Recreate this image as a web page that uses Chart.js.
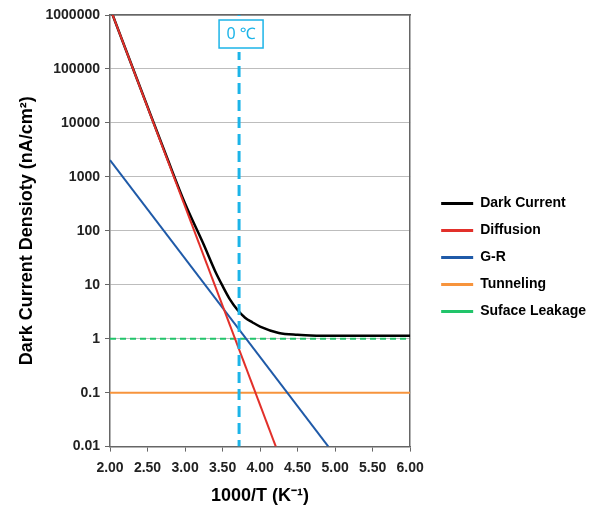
<!DOCTYPE html>
<html>
<head>
<meta charset="utf-8">
<script src="https://cdn.jsdelivr.net/npm/chart.js@4.4.1/dist/chart.umd.min.js"></script>
<style>
  html, body { margin: 0; padding: 0; background: #fff; }
  #wrap { width: 596px; height: 510px; }
</style>
</head>
<body>
<div id="wrap"><canvas id="darkChart" width="596" height="510"></canvas></div>
<script>
// 1000/T (K^-1) and current density (nA/cm2)
const darkX = [2.0, 2.5, 2.75, 3.0, 3.25, 3.4, 3.5, 3.6, 3.7, 3.8, 3.9, 4.0, 4.25, 4.5, 4.75, 5.0, 5.5, 6.0];
const darkCurrent = [1350000, 19900, 2460, 320, 55, 18, 9.5, 5.3, 3.4, 2.45, 2.0, 1.68, 1.28, 1.18, 1.14, 1.13, 1.13, 1.13];
const diffX = [2.0, 4.21];
const diffusion = [1350000, 0.01];
const grX = [2.0, 4.91];
const genRec = [2050, 0.01];
const flatX = [2.0, 6.0];
const tunneling = [0.1, 0.1];
const surfaceLeak = [1, 1];
const zeroC = 3.72;
const zeroLine = [1000000, 0.01];
const yTicks = [0.01, 0.1, 1, 10, 100, 1000, 10000, 100000, 1000000];
const names = ["Dark Current", "Diffusion", "G-R", "Tunneling", "Suface Leakage"];

const pts = (xs, ys) => xs.map((x, i) => ({ x, y: ys[i] }));
const FONT = '"Liberation Sans", Arial, sans-serif';
const CYAN = "#1cb4e8";

Chart.defaults.font.family = FONT;

// small box with the 0 C label on top of the dashed line
const zeroBox = {
  id: "zeroBox",
  afterDatasetsDraw(chart) {
    const { ctx, chartArea } = chart;
    const xp = chart.scales.x.getPixelForValue(zeroC);
    const top = chartArea.top;
    ctx.save();
    ctx.fillStyle = "#fff";
    ctx.fillRect(xp - 21, top + 1, 46, 36);
    ctx.strokeStyle = CYAN;
    ctx.lineWidth = 1.5;
    ctx.strokeRect(xp - 20, top + 5, 44, 28);
    ctx.fillStyle = CYAN;
    ctx.font = '16px "Noto Sans", sans-serif';
    ctx.textAlign = "center";
    ctx.textBaseline = "middle";
    ctx.fillText("0 \u2103", xp + 2, top + 19);
    ctx.restore();
  }
};

const legendLabels = chart =>
  Chart.defaults.plugins.legend.labels.generateLabels(chart).map(l => ({ ...l, lineWidth: 3 }));

new Chart(document.getElementById("darkChart"), {
  type: "line",
  data: {
    datasets: [
      { label: names[0], data: pts(darkX, darkCurrent), borderColor: "#000", backgroundColor: "#000",
        borderWidth: 2.5, cubicInterpolationMode: "monotone", order: 2 },
      { label: names[1], data: pts(diffX, diffusion), borderColor: "#e2302a", backgroundColor: "#e2302a",
        borderWidth: 2, order: 1 },
      { label: names[2], data: pts(grX, genRec), borderColor: "#1f5aa8", backgroundColor: "#1f5aa8",
        borderWidth: 2, order: 1 },
      { label: names[3], data: pts(flatX, tunneling), borderColor: "#f7943c", backgroundColor: "#f7943c",
        borderWidth: 2, order: 1 },
      { label: names[4], data: pts(flatX, surfaceLeak), borderColor: "#21c46a", backgroundColor: "#21c46a",
        borderWidth: 2, borderDash: [6, 4], order: 1 },
      { label: "0C", data: pts([zeroC, zeroC], zeroLine), borderColor: CYAN,
        borderWidth: 3, borderDash: [11, 6], order: 0 }
    ]
  },
  options: {
    responsive: false,
    animation: false,
    elements: { point: { radius: 0 } },
    layout: { padding: { top: 5 } },
    scales: {
      x: {
        type: "linear", min: 2, max: 6,
        ticks: { stepSize: 0.5, callback: v => v.toFixed(2), color: "#222",
                 font: { size: 14, weight: "bold" }, padding: 8 },
        grid: { drawOnChartArea: false, tickLength: 5, tickColor: "#666" },
        border: { color: "#666", width: 1.5 },
        title: { display: true, text: "1000/T (K\u207B\u00B9)", color: "#000",
                 font: { size: 18, weight: "bold" }, padding: { top: 1, bottom: 3 } }
      },
      xTop: {
        type: "linear", position: "top", min: 2, max: 6,
        ticks: { display: false },
        grid: { drawOnChartArea: false, drawTicks: false },
        border: { color: "#666", width: 1.5 },
        afterFit: s => { s.height = 10; }
      },
      y: {
        type: "logarithmic", min: 0.01, max: 1000000,
        afterBuildTicks: s => { s.ticks = yTicks.map(v => ({ value: v })); },
        afterFit: s => { s.width = 110; },
        ticks: { callback: v => yTicks.includes(v) ? String(v) : "", color: "#222",
                 font: { size: 14, weight: "bold" }, padding: 5 },
        grid: { color: "#bdbdbd", lineWidth: 1, tickLength: 5, tickColor: "#666" },
        border: { color: "#666", width: 1.5 },
        title: { display: true, text: "Dark Current Densioty (nA/cm\u00B2)", color: "#000",
                 font: { size: 18, weight: "bold" }, padding: { top: 16, bottom: 8 } }
      },
      yRight: {
        type: "logarithmic", position: "right", min: 0.01, max: 1000000,
        ticks: { display: false },
        grid: { drawOnChartArea: false, drawTicks: false },
        border: { color: "#666", width: 1.5 },
        afterFit: s => { s.width = 18; }
      }
    },
    plugins: {
      legend: {
        position: "right", align: "center", maxWidth: 200,
        labels: {
          usePointStyle: true, pointStyle: "line", pointStyleWidth: 32,
          padding: 13, color: "#000", font: { size: 14, weight: "bold" },
          generateLabels: legendLabels,
          filter: item => item.datasetIndex < 5,
          sort: (a, b) => a.datasetIndex - b.datasetIndex
        }
      },
      tooltip: { enabled: false }
    }
  },
  plugins: [zeroBox]
});
</script>
</body>
</html>
